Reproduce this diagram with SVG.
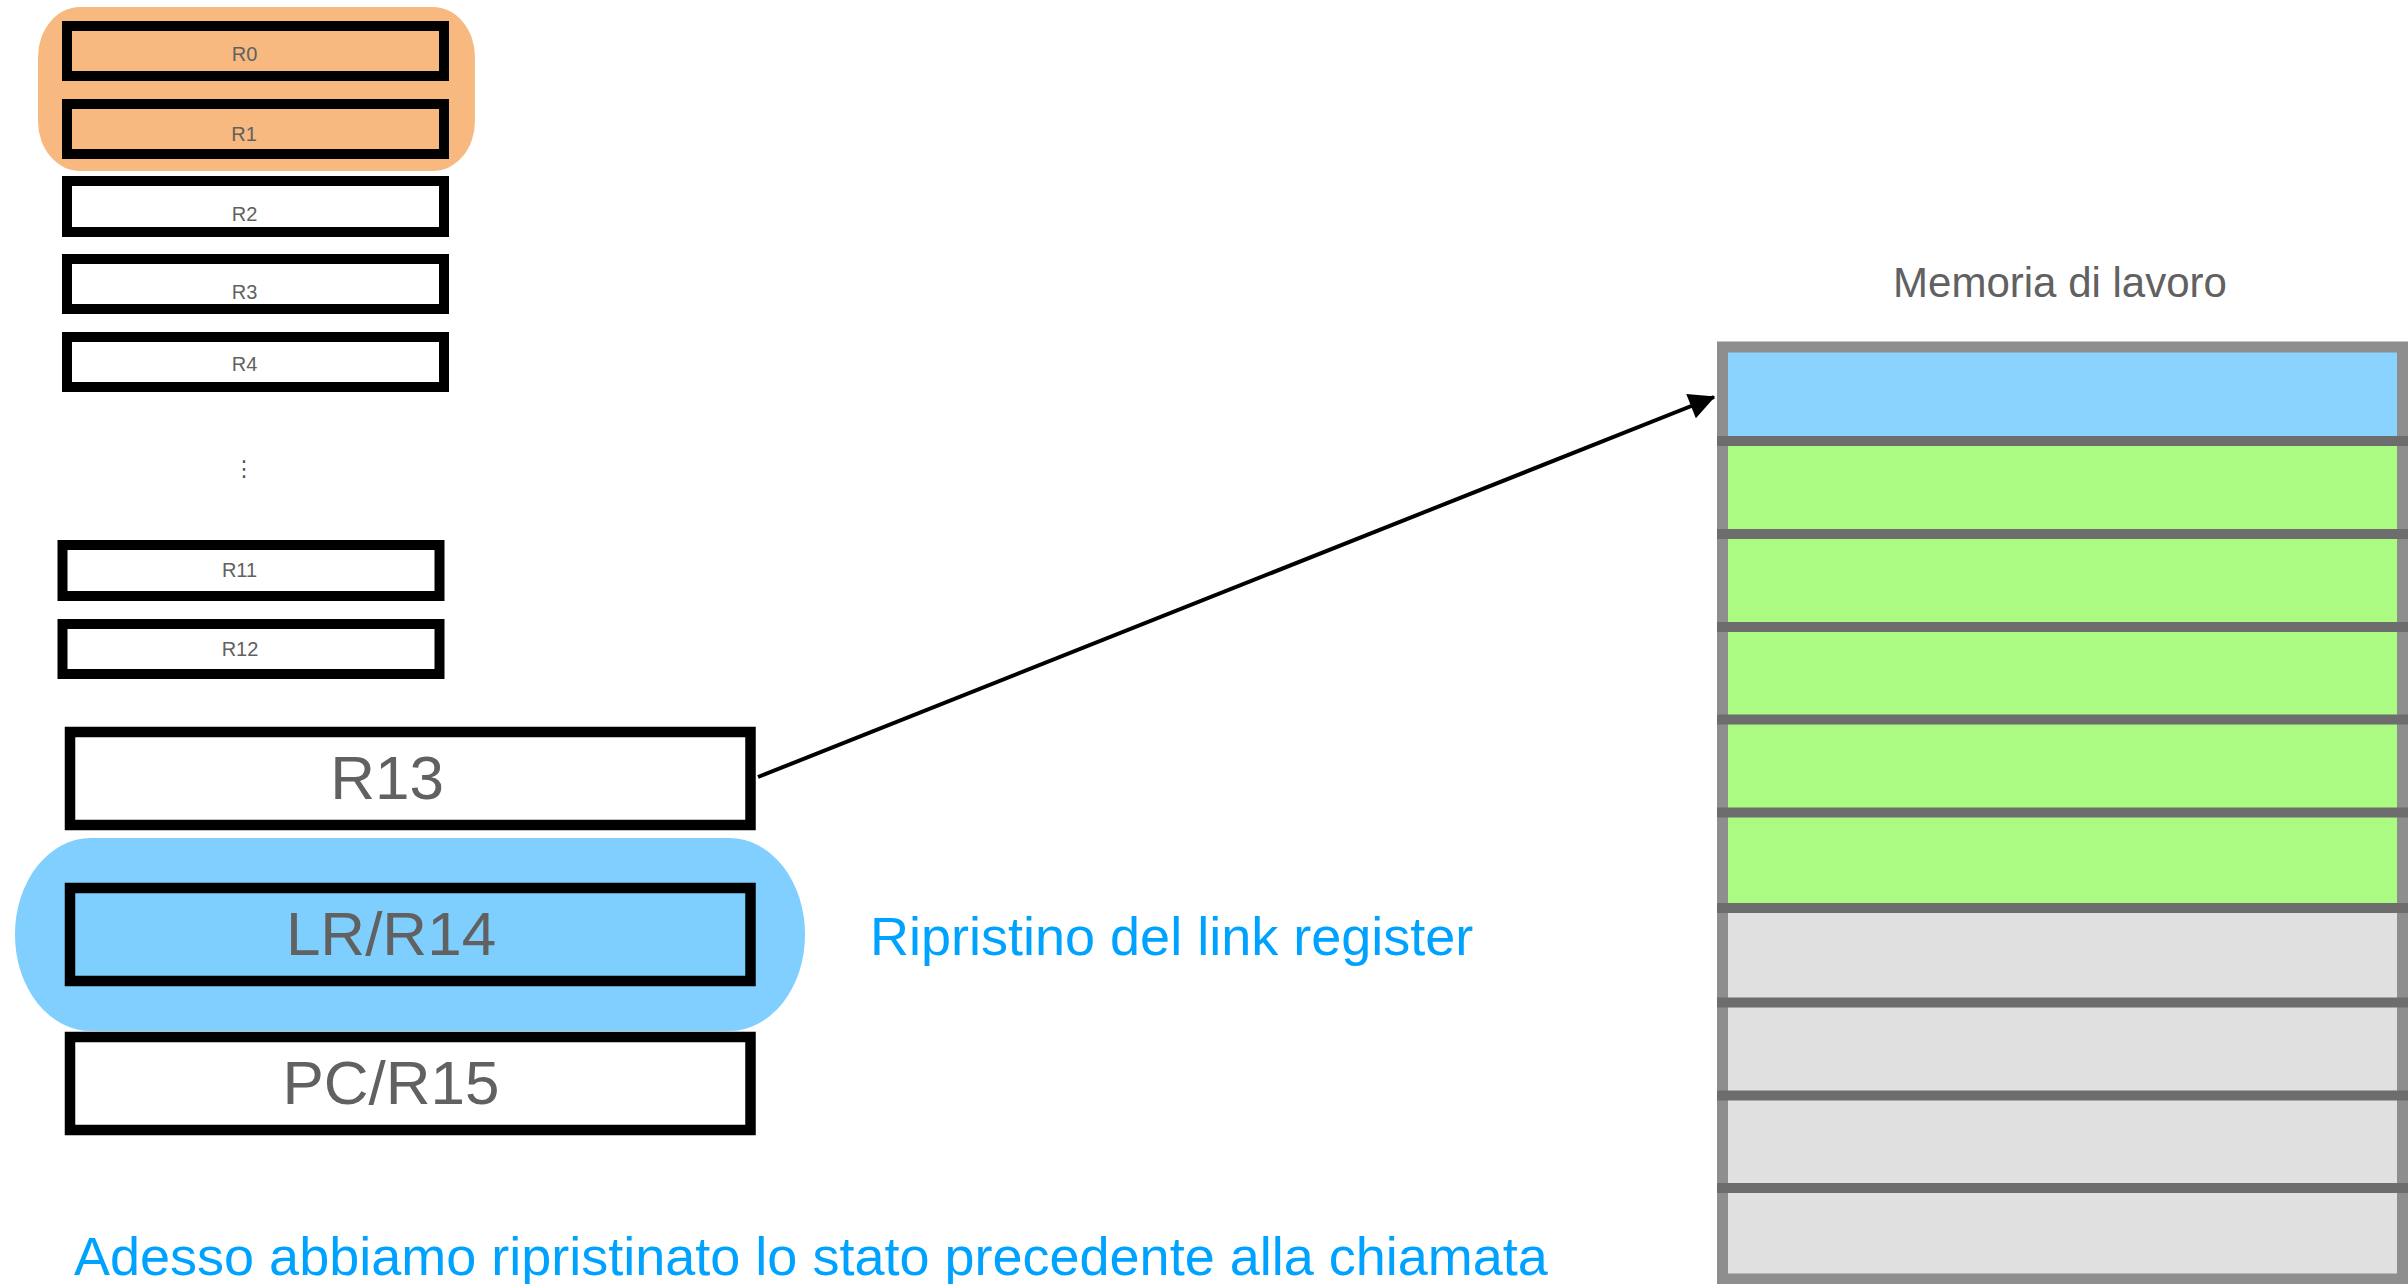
<svg xmlns="http://www.w3.org/2000/svg" width="2408" height="1284" viewBox="0 0 2408 1284">
  <style>
    .reg { fill: #ffffff; stroke: #000000; stroke-width: 10; }
    .reg-hot { fill: #f8b980; stroke: #000000; stroke-width: 10; }
    .reg-lr { fill: #7fcffe; stroke: #000000; stroke-width: 10.5; }
    .reg-big { fill: #ffffff; stroke: #000000; stroke-width: 10.5; }
    .lbl-s { font-family: "Liberation Sans", Arial, Helvetica, sans-serif; font-size: 20px; fill: #616161; text-anchor: middle; }
    .lbl-l { font-family: "Liberation Sans", Arial, Helvetica, sans-serif; font-size: 62px; fill: #616161; text-anchor: middle; }
    .note { font-family: "Liberation Sans", Arial, Helvetica, sans-serif; font-size: 54px; fill: #00a2ff; }
    .title { font-family: "Liberation Sans", Arial, Helvetica, sans-serif; font-size: 42px; fill: #616161; text-anchor: middle; }
    .cell { stroke: #a9a9a9; stroke-width: 1; }
    .sep { stroke: #6d6d6d; stroke-width: 10; }
    .conn { stroke: #000000; stroke-width: 4; fill: none; }
  </style>
  <defs>
    <marker id="arrowhead" viewBox="0 0 10 10" refX="9.5" refY="5" markerWidth="7.5" markerHeight="6.5" markerUnits="strokeWidth" orient="auto">
      <path d="M0,0 L10,5 L0,10 z" fill="#000000"/>
    </marker>
  </defs>

  <rect width="2408" height="1284" fill="#ffffff"/>

  <!-- highlight behind R0 / R1 -->
  <rect id="hl-r0r1" x="38" y="7" width="437" height="164" rx="42" ry="50" fill="#f8b980"/>
  <!-- highlight behind LR -->
  <rect id="hl-lr" x="15" y="838" width="790" height="193" rx="76" ry="96" fill="#80cfff"/>

  <!-- register file -->
  <g id="r0"><rect class="reg-hot" x="67" y="26" width="377" height="50"/><text class="lbl-s" x="244.5" y="61">R0</text></g>
  <g id="r1"><rect class="reg-hot" x="67" y="104" width="377" height="50"/><text class="lbl-s" x="244" y="141">R1</text></g>
  <g id="r2"><rect class="reg" x="67" y="181" width="377" height="51"/><text class="lbl-s" x="244.5" y="220.5">R2</text></g>
  <g id="r3"><rect class="reg" x="67" y="259" width="377" height="50"/><text class="lbl-s" x="244.5" y="299">R3</text></g>
  <g id="r4"><rect class="reg" x="67" y="337" width="377" height="50"/><text class="lbl-s" x="244.5" y="370.5">R4</text></g>
  <g id="dots"><text x="244" y="476" font-family="DejaVu Sans, sans-serif" font-size="22" fill="#555555" text-anchor="middle">⋮</text></g>
  <g id="r11"><rect class="reg" x="62.5" y="545" width="377" height="51"/><text class="lbl-s" x="239.5" y="576.5">R11</text></g>
  <g id="r12"><rect class="reg" x="62.5" y="624" width="377" height="50"/><text class="lbl-s" x="240" y="655.5">R12</text></g>
  <g id="r13"><rect class="reg-big" x="70" y="732" width="680.5" height="93"/><text class="lbl-l" x="387" y="799">R13</text></g>
  <g id="r14"><rect class="reg-lr" x="70" y="888" width="680.5" height="93"/><text class="lbl-l" x="391" y="955">LR/R14</text></g>
  <g id="r15"><rect class="reg-big" x="70" y="1037" width="680.5" height="93"/><text class="lbl-l" x="391" y="1104">PC/R15</text></g>

  <!-- working memory -->
  <g id="memory">
    <text class="title" x="2060" y="297">Memoria di lavoro</text>
    <rect class="cell" x="1722" y="347" width="680" height="93.2" fill="#89d3fe"/>
    <rect class="cell" x="1722" y="440.2" width="680" height="93.2" fill="#abfa81"/>
    <rect class="cell" x="1722" y="533.4" width="680" height="93.2" fill="#abfa81"/>
    <rect class="cell" x="1722" y="626.6" width="680" height="93.2" fill="#abfa81"/>
    <rect class="cell" x="1722" y="719.8" width="680" height="93.2" fill="#abfa81"/>
    <rect class="cell" x="1722" y="813" width="680" height="93.2" fill="#abfa81"/>
    <rect class="cell" x="1722" y="906.2" width="680" height="93.2" fill="#e0e0e0"/>
    <rect class="cell" x="1722" y="999.4" width="680" height="93.2" fill="#e0e0e0"/>
    <rect class="cell" x="1722" y="1092.6" width="680" height="93.2" fill="#e0e0e0"/>
    <rect class="cell" x="1722" y="1185.8" width="680" height="93.2" fill="#e0e0e0"/>
    <rect x="1722.5" y="347" width="680" height="932" fill="none" stroke="#8e8e8e" stroke-width="11"/>
    <line class="sep" x1="1717" y1="441" x2="2408" y2="441"/>
    <line class="sep" x1="1717" y1="534" x2="2408" y2="534"/>
    <line class="sep" x1="1717" y1="627" x2="2408" y2="627"/>
    <line class="sep" x1="1717" y1="719.5" x2="2408" y2="719.5"/>
    <line class="sep" x1="1717" y1="812.5" x2="2408" y2="812.5"/>
    <line class="sep" x1="1717" y1="908" x2="2408" y2="908"/>
    <line class="sep" x1="1717" y1="1002.5" x2="2408" y2="1002.5"/>
    <line class="sep" x1="1717" y1="1095.5" x2="2408" y2="1095.5"/>
    <line class="sep" x1="1717" y1="1188" x2="2408" y2="1188"/>
  </g>

  <!-- connectors -->
  <g id="connectors">
    <line class="conn" x1="758" y1="777" x2="1714" y2="397" marker-end="url(#arrowhead)"/>
  </g>

  <!-- annotations -->
  <g id="notes">
    <text class="note" x="870" y="955">Ripristino del link register</text>
    <text class="note" x="74" y="1275">Adesso abbiamo ripristinato lo stato precedente alla chiamata</text>
  </g>
</svg>
